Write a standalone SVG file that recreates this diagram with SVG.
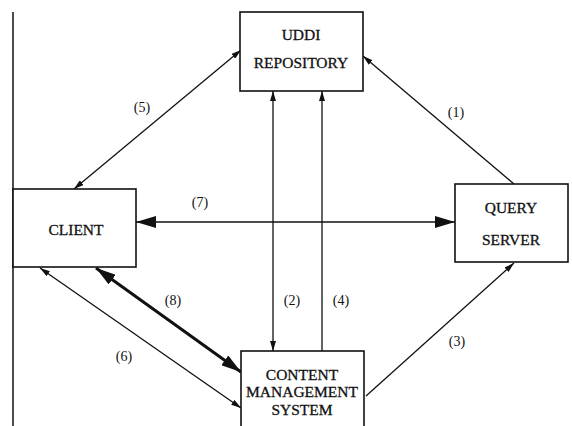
<svg xmlns="http://www.w3.org/2000/svg" width="572" height="426" viewBox="0 0 572 426">
<defs>
<style>
.box{fill:#fff;stroke:#111;stroke-width:1.6}
.t{font-family:"Liberation Serif","Times New Roman",serif;font-size:15.5px;fill:#111;stroke:#111;stroke-width:0.3;text-anchor:middle}
.lb{font-family:"Liberation Serif","Times New Roman",serif;font-size:14px;fill:#111;text-anchor:middle}
.c{fill:none;stroke:#111;stroke-width:1.3}
.thick{stroke-width:3}
</style>
<marker id="ah" markerUnits="userSpaceOnUse" markerWidth="10" markerHeight="6" refX="10" refY="3" orient="auto-start-reverse"><path d="M0,0 L10,3 L0,6 z" fill="#111"/></marker>
<marker id="big" markerUnits="userSpaceOnUse" markerWidth="20" markerHeight="12" refX="20" refY="6" orient="auto-start-reverse"><path d="M0,0 L20,6 L0,12 z" fill="#111"/></marker>
</defs>
<rect width="572" height="426" fill="#fff"/>
<line x1="13" y1="12" x2="13" y2="426" stroke="#111" stroke-width="1.5"/>
<g id="connectors">
<line class="c" x1="241" y1="50" x2="74" y2="189" marker-start="url(#ah)" marker-end="url(#ah)"/>
<line class="c" x1="514" y1="184" x2="363" y2="56" marker-end="url(#ah)"/>
<line class="c" x1="273" y1="91" x2="273" y2="351" marker-start="url(#ah)" marker-end="url(#ah)"/>
<line class="c" x1="322" y1="351" x2="322" y2="91" marker-end="url(#ah)"/>
<line class="c" x1="136" y1="222" x2="455" y2="222" marker-start="url(#big)" marker-end="url(#big)"/>
<line class="c" x1="40" y1="268" x2="241" y2="408" marker-start="url(#ah)" marker-end="url(#ah)"/>
<line class="c thick" x1="96" y1="268" x2="241" y2="372" marker-start="url(#big)" marker-end="url(#big)"/>
<line class="c" x1="366" y1="396" x2="514" y2="263" marker-end="url(#ah)"/>
<text class="lb" x="142" y="112">(5)</text>
<text class="lb" x="456" y="117">(1)</text>
<text class="lb" x="200" y="207">(7)</text>
<text class="lb" x="173" y="305">(8)</text>
<text class="lb" x="292" y="305">(2)</text>
<text class="lb" x="341" y="305">(4)</text>
<text class="lb" x="124" y="361">(6)</text>
<text class="lb" x="457" y="346">(3)</text>
</g>
<g id="uddi">
<rect class="box" x="240" y="12" width="123" height="79"/>
<text class="t" x="301" y="40">UDDI</text>
<text class="t" x="301" y="68">REPOSITORY</text>
</g>
<g id="client">
<rect class="box" x="13" y="189" width="123" height="78"/>
<text class="t" x="76" y="235">CLIENT</text>
</g>
<g id="query">
<rect class="box" x="455" y="184" width="113" height="78"/>
<text class="t" x="511" y="213">QUERY</text>
<text class="t" x="511" y="245">SERVER</text>
</g>
<g id="cms">
<rect class="box" x="241" y="351" width="123" height="85"/>
<text class="t" x="302" y="380">CONTENT</text>
<text class="t" x="302" y="397">MANAGEMENT</text>
<text class="t" x="302" y="415">SYSTEM</text>
</g>
</svg>
